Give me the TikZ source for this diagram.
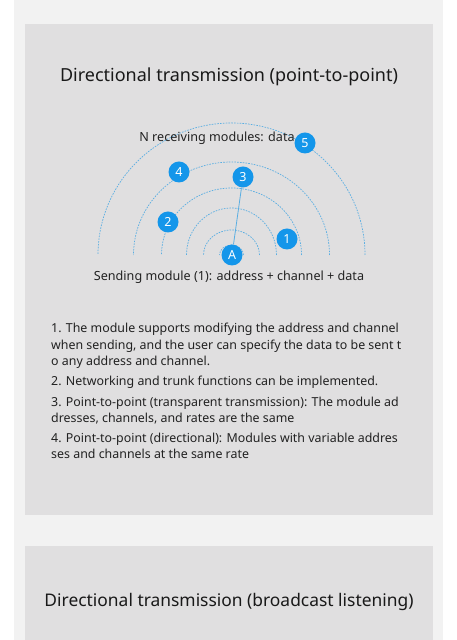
\documentclass[tikz,border=0pt]{standalone}
\usepackage{fontspec}
\setmainfont{Noto Sans}
\usetikzlibrary{calc}
\begin{document}
\begin{tikzpicture}[x=1pt,y=1pt,
  wave/.style={draw=wavecol,line width=0.7pt,dash pattern=on 1.6pt off 1.2pt},
  badge/.style={circle,fill=badgecol,text=white,minimum size=21pt,inner sep=0pt,font=\fontsize{12.5}{12}\selectfont},
  body/.style={anchor=base west,inner sep=0pt,text=txt,font=\fontsize{12.4}{14}\selectfont},
  titlestyle/.style={inner sep=0pt,text=black!90,font=\fontsize{18}{20}\selectfont}]
\definecolor{wavecol}{HTML}{5AAEE2}
\definecolor{badgecol}{HTML}{1496EA}
\definecolor{panel}{HTML}{F2F2F2}
\definecolor{boxcol}{HTML}{E0DFE0}
\definecolor{txt}{HTML}{222222}
\useasboundingbox (0,0) rectangle (457,640);
\fill[white] (0,0) rectangle (457,640);
\fill[panel] (14,0) rectangle (443,640);
\fill[boxcol] (25,125) rectangle (433,616);
\fill[boxcol] (25,0) rectangle (433,94);
% title
\node[titlestyle] (t1) at (229,563) {Directional transmission (point-to-point)};
% waves
\coordinate (O) at (231.5,385);
\foreach \rx/\ry in {12/10,28/25,45/47,70/67,98/93,133.5/132}{
  \draw[wave] ($(O)+(\rx,0)$) arc[start angle=0,end angle=180,x radius=\rx,y radius=\ry];
}
\node[inner sep=0pt,text=txt,font=\fontsize{12.6}{14}\selectfont] (nr) at (217,502) {N receiving modules: data};
\node[badge] (A) at (232,385) {A};
\node[badge] (n3) at (243,463) {3};
\draw[wavecol,line width=0.8pt] (A) -- (n3);
\node[badge] (n1) at (287,401) {1};
\node[badge] (n2) at (168,418) {2};
\node[badge] (n4) at (179,468) {4};
\node[badge] (n5) at (305,497) {5};
\node[inner sep=0pt,text=txt,font=\fontsize{12.6}{14}\selectfont] (snd) at (229,363) {Sending module (1): address + channel + data};
% body text
\node[body] (l1) at (51,307.5) {1. The module supports modifying the address and channel};
\node[body] (l2) at (51,290.5) {when sending, and the user can specify the data to be sent t};
\node[body] (l3) at (51,274.5) {o any address and channel.};
\node[body] (l4) at (51,254.5) {2. Networking and trunk functions can be implemented.};
\node[body] (l5) at (51,233.5) {3. Point-to-point (transparent transmission): The module ad};
\node[body] (l6) at (51,217.5) {dresses, channels, and rates are the same};
\node[body] (l7) at (51,197.5) {4. Point-to-point (directional): Modules with variable addres};
\node[body] (l8) at (51,181.5) {ses and channels at the same rate};
% second title
\node[titlestyle,font=\fontsize{17.4}{20}\selectfont] (t2) at (229,38) {Directional transmission (broadcast listening)};
\end{tikzpicture}
\end{document}
